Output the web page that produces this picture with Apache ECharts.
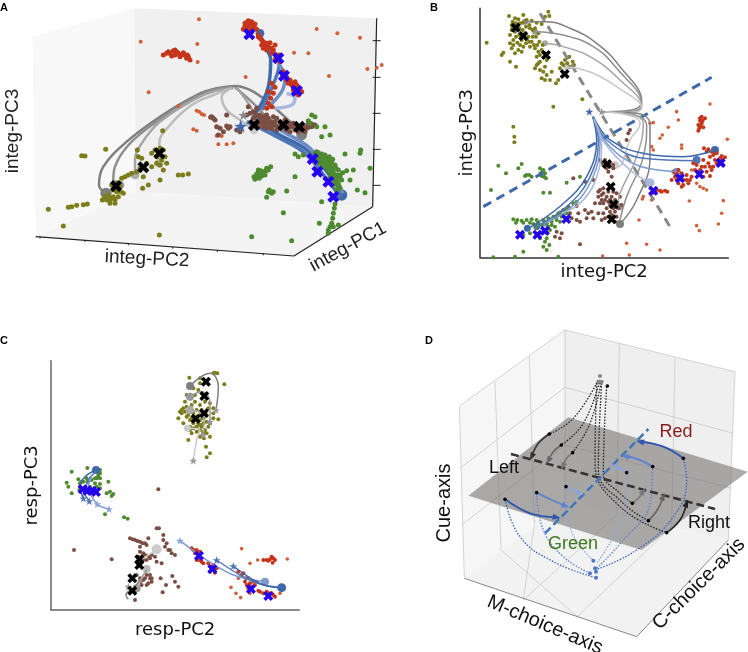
<!DOCTYPE html>
<html><head><meta charset="utf-8">
<script src="https://cdn.jsdelivr.net/npm/echarts@6/dist/echarts.min.js"></script>
<style>html,body{margin:0;background:#fff}#c{width:748px;height:652px}</style></head>
<body><div id="c"></div>
<script>
// ---------- Panel A ----------
const aWalls=[[[97,110],[403,25],[408,575],[107,710]],[[403,25],[1130,55],[1118,620],[408,575]],[[107,710],[408,575],[1118,620],[882,768]]];
const aAxes=[[[107,710],[882,768]],[[882,768],[1118,620]],[[1118,620],[1130,55]]];
const aTicks=[[[1118,122],[1142,122]],[[1118,232],[1142,232]],[[1118,340],[1142,340]],[[1118,448],[1142,448]],[[1118,556],[1142,556]],[[120,710],[120,716]],[[255,720],[255,726]],[[385,730],[385,736]],[[518,740],[518,746]],[[652,750],[652,756]],[[790,760],[790,766]]];
const aOlive=[[145,628],[205,622],[215,620],[230,616],[250,614],[262,612],[245,467],[255,468],[317,448],[190,678],[478,705],[488,392],[307,600],[315,590],[325,585],[335,595],[345,600],[355,590],[362,575],[340,570],[335,555],[350,548],[365,535],[375,530],[385,525],[395,520],[410,515],[420,505],[415,470],[412,450],[425,475],[440,490],[455,500],[470,490],[480,495],[490,510],[500,490],[495,470],[455,460],[465,450],[480,445],[490,450],[470,470],[485,480],[430,530],[428,565],[445,555],[480,540],[535,525],[548,525],[565,522],[330,610],[345,610],[320,600],[355,565],[370,580],[350,575],[360,560],[340,590],[330,600]];
const aRed=[[735,70],[745,62],[755,65],[765,72],[740,80],[750,78],[760,85],[730,88],[770,88],[745,92],[755,95],[775,105],[780,115],[790,125],[785,135],[800,130],[810,128],[825,135],[815,145],[800,150],[830,165],[825,180],[840,185],[815,160],[835,175],[850,215],[870,240],[885,245],[875,255],[890,255],[900,265],[895,285],[880,270],[860,240],[865,250],[905,275],[815,250],[825,262],[805,275],[820,280],[812,295],[805,310],[800,325],[815,320],[490,165],[500,160],[510,160],[520,152],[525,165],[535,160],[545,165],[555,165],[560,175],[570,180],[525,150],[550,158],[738,68],[748,70],[758,72],[742,88],[752,85],[762,78],[735,78],[748,98],[775,110],[785,120],[795,135],[790,145],[805,140],[820,150],[828,172],[838,165],[848,225],[860,232],[872,248],[882,262],[892,270],[898,278],[885,280],[505,155],[515,168],[530,155],[540,170],[562,165],[565,170]];
const aOrange=[[597,58],[950,87],[1012,100],[1080,113],[422,125],[592,132],[593,186],[925,160],[882,158],[1102,207],[1130,203],[1145,195],[987,228],[737,231],[446,277],[535,318],[655,433],[680,433],[700,430],[650,407],[665,408],[580,388],[590,392],[590,332],[598,335],[605,342],[612,345]];
const aBrown=[[635,350],[640,355],[645,360],[632,352],[680,378],[690,380],[685,385],[650,380],[660,385],[655,405],[670,395],[680,345],[720,395],[710,390],[745,320],[770,325],[740,345],[770,345],[780,355],[760,355],[775,365],[785,370],[795,360],[805,355],[815,365],[825,375],[790,380],[800,385],[815,385],[830,390],[840,365],[855,360],[865,370],[875,380],[885,390],[895,395],[905,385],[920,385],[935,380],[945,375],[860,390],[870,395],[845,385],[810,375],[880,370],[925,370],[915,395],[765,370],[775,378],[785,360],[795,372],[805,368],[815,375],[825,365],[835,380],[845,375],[855,380],[865,382],[875,372],[885,378],[895,385],[905,378],[915,380],[925,382],[935,372],[780,345],[790,350],[800,345],[760,335],[750,340],[830,355],[820,350]];
const aGreen=[[950,455],[958,465],[965,472],[972,480],[980,488],[988,495],[975,470],[985,482],[995,505],[1000,515],[1005,530],[1012,545],[1018,560],[960,490],[970,500],[985,510],[995,525],[1005,545],[990,490],[1000,500],[1010,525],[935,345],[945,350],[925,362],[930,370],[950,380],[975,380],[990,405],[965,410],[885,462],[895,470],[910,465],[1035,462],[1082,450],[1080,460],[1110,505],[1040,512],[1060,510],[1028,518],[1020,530],[1050,540],[1072,570],[1095,578],[965,605],[850,638],[755,710],[875,722],[958,670],[770,530],[780,520],[790,515],[800,505],[812,500],[775,510],[785,528],[765,538],[795,525],[805,575],[815,580],[808,570],[820,575],[885,530],[860,573],[800,592],[1005,612],[1003,625],[1000,640],[998,655],[995,670],[990,680],[985,690],[1000,680],[1015,675],[985,700],[945,460],[955,475],[965,485],[975,495],[985,505],[990,515],[1000,525],[1008,538],[1015,552],[1020,565],[955,458],[965,462],[975,465],[985,475],[995,485],[1005,495],[1015,510],[1020,525],[1025,540],[950,470],[960,480],[970,490],[980,500],[990,530],[1000,555],[1010,570],[968,475],[978,482],[988,470],[998,478],[1008,505],[1015,530],[775,518],[782,512],[790,522],[798,512],[770,522],[762,530],[805,510],[778,535]];
const aGrayLines=[
 {c:'#7f7f7f',p:[[715,258],[650,265],[590,285],[480,350],[380,425],[310,500],[297,555],[318,580]]},
 {c:'#8f8f8f',p:[[700,262],[640,270],[585,292],[480,358],[390,430],[345,500],[340,540],[358,556]]},
 {c:'#a5a5a5',p:[[700,265],[640,275],[580,300],[480,365],[425,430],[405,480],[405,525]]},
 {c:'#bcbcbc',p:[[695,265],[640,285],[575,315],[510,375],[478,430],[478,485]]},
 {c:'#7f7f7f',p:[[715,258],[760,275],[820,320],[870,365],[905,405]]},
 {c:'#8f8f8f',p:[[705,262],[760,310],[810,360],[850,385]]},
 {c:'#a5a5a5',p:[[710,262],[745,310],[770,350],[800,385]]},
 {c:'#bcbcbc',p:[[685,270],[665,290],[680,330],[720,360],[762,390]]}];
const aBlueLines=[
 {c:'#3f68ab',p:[[760,350],[830,400],[920,450],[1000,540],[1025,585]]},
 {c:'#4f76b5',p:[[740,365],[830,410],[915,460],[990,550],[1020,590]]},
 {c:'#6d8dc4',p:[[770,345],[850,395],[930,445],[1005,535],[1028,580]]},
 {c:'#3f68ab',p:[[760,350],[805,260],[812,180],[790,130],[780,100]]},
 {c:'#4f76b5',p:[[785,330],[825,240],[838,190],[820,155],[805,150]]},
 {c:'#6d8dc4',p:[[800,325],[845,275],[855,235],[835,190]]},
 {c:'#a7b8dc',p:[[825,325],[875,315],[885,295],[860,280]]}];
const aBlueDots=[[[780,100],'#3f68ab',26],[[803,150],'#6d8dc4',18],[[1025,585],'#3f68ab',34]];
const aGrayDots=[[[318,580],'#7f7f7f',34],[[360,555],'#999',26],[[405,525],'#aaa',26],[[478,490],'#bbb',26],[[905,405],'#7f7f7f',32],[[762,390],'#ccc',26]];
const aBlueX=[[748,103],[835,175],[852,227],[890,272],[938,477],[952,515],[985,545],[1000,590]];
const aBlackX=[[348,558],[430,502],[478,460],[762,375],[850,375],[898,380]];
const aStars=[[722,378]];
const aGrayStars=[[730,345]];

// ---------- Panel B ----------
const bOlive=[[170,128],[237,48],[280,45],[255,55],[355,35],[345,50],[358,48],[265,58],[290,60],[305,62],[320,68],[335,72],[245,75],[255,95],[240,105],[250,120],[262,128],[275,120],[285,100],[295,110],[305,125],[300,140],[280,140],[265,150],[250,135],[245,90],[270,70],[315,85],[325,100],[315,145],[325,155],[335,150],[320,170],[330,185],[315,205],[330,210],[345,200],[335,235],[345,240],[360,240],[365,215],[350,180],[395,190],[405,180],[418,170],[428,185],[432,195],[390,205],[385,240],[378,250],[215,165],[220,158],[240,185],[258,200],[250,380],[253,410],[253,427],[370,320],[457,298],[248,65],[258,70],[268,85],[278,90],[288,80],[298,75],[308,90],[318,110],[328,125],[338,135],[308,110],[298,125],[288,130],[270,135],[258,110],[248,82],[268,105],[278,68],[300,85],[290,118],[312,135],[322,135],[325,190],[340,215],[350,225],[320,195],[330,165],[345,160],[400,195],[412,190],[420,200],[275,155],[255,160],[240,130],[245,145]];
const bRed=[[815,350],[810,362],[805,375],[815,370],[820,382],[805,392],[825,355],[822,445],[835,448],[845,455],[860,460],[875,468],[885,472],[865,480],[880,495],[820,480],[835,490],[850,500],[845,510],[830,515],[815,500],[800,495],[790,490],[820,530],[840,528],[730,515],[745,510],[735,530],[725,540],[745,550],[760,555],[775,550],[785,530],[770,525],[755,520],[662,565],[680,570],[695,575],[712,575],[670,578],[810,355],[818,362],[808,385],[812,378],[830,455],[850,465],[870,475],[855,480],[840,470],[825,500],[810,510],[795,510],[840,500],[860,490],[875,480],[738,520],[750,530],[760,540],[770,540],[740,540],[755,560],[780,540],[690,572],[705,572]];
const bOrange=[[840,312],[892,418],[740,335],[745,360],[670,368],[660,370],[715,382],[697,405],[690,415],[665,440],[670,450],[755,435],[755,445],[778,603],[880,602],[875,640],[865,672],[800,677],[808,692],[640,590],[637,597],[665,600],[820,565],[830,570],[810,560],[650,733],[690,750],[590,730],[598,765],[518,768],[627,660],[800,550],[785,510]];
const bBrown=[[515,487],[525,480],[540,490],[550,505],[530,505],[520,495],[600,390],[595,400],[590,420],[510,570],[520,580],[530,590],[505,590],[515,600],[535,605],[550,575],[560,580],[570,590],[575,615],[565,625],[555,635],[540,635],[545,645],[560,650],[525,655],[515,660],[490,655],[470,655],[465,630],[485,635],[505,640],[440,660],[450,665],[425,655],[415,620],[440,618],[495,610],[380,695],[395,700],[375,710],[390,715],[450,733],[490,540],[465,545],[430,535],[545,530],[540,615],[530,625],[520,610],[510,610],[505,575],[520,565],[535,575],[545,590],[555,600],[525,600],[515,585],[540,600],[560,610],[550,625],[535,650],[548,655],[555,665],[520,640],[530,490],[510,480],[535,515],[550,495],[420,640],[400,630],[445,640],[475,640]];
const bGreen=[[250,658],[262,660],[275,662],[290,660],[305,658],[320,660],[258,668],[280,668],[300,668],[320,680],[335,675],[350,670],[365,665],[380,650],[395,640],[410,640],[430,610],[440,605],[340,695],[350,700],[330,715],[345,725],[360,690],[375,680],[390,665],[285,528],[298,525],[330,505],[338,512],[345,520],[335,528],[348,535],[205,497],[228,520],[183,570],[275,492],[265,505],[340,578],[360,578],[410,548],[450,530],[340,740],[350,750],[280,755],[190,772],[255,770],[385,770],[280,705],[300,700],[310,672],[325,668],[340,660],[355,655],[370,650],[385,640],[355,680],[345,690],[335,700],[365,675],[380,660],[395,650],[405,630],[415,625],[340,510],[332,520],[342,530],[290,525],[305,530],[350,715],[358,735]];
const bGrayLines=[
 {c:'#7f7f7f',p:[[515,335],[590,332],[635,305],[570,200],[500,130],[420,85],[345,65],[285,65]]},
 {c:'#8f8f8f',p:[[520,335],[600,335],[635,315],[560,205],[490,140],[400,105],[315,95]]},
 {c:'#a5a5a5',p:[[520,335],[600,335],[635,320],[570,240],[480,170],[400,140],[345,130]]},
 {c:'#c8c8c8',p:[[520,335],[600,338],[635,325],[560,260],[490,220],[440,205],[410,200]]},
 {c:'#7f7f7f',p:[[515,335],[620,340],[660,375],[660,470],[620,600],[570,672]]},
 {c:'#8f8f8f',p:[[520,335],[615,345],[650,375],[640,470],[590,590],[570,660]]},
 {c:'#a5a5a5',p:[[525,335],[610,345],[640,370],[620,470],[570,580],[565,610]]},
 {c:'#c8c8c8',p:[[525,335],[610,350],[630,370],[600,420],[565,500],[555,495]]}];
const bBlueLines=[
 {c:'#3f68ab',p:[[490,350],[540,420],[650,462],[760,470],[855,450]]},
 {c:'#4f76b5',p:[[490,350],[530,420],[640,475],[800,482]]},
 {c:'#7d9ace',p:[[490,355],[530,430],[620,495],[740,515]]},
 {c:'#a7b8dc',p:[[490,355],[525,430],[600,510],[660,548]]},
 {c:'#3f68ab',p:[[488,350],[500,420],[470,530],[395,615],[295,685]]},
 {c:'#4f76b5',p:[[490,352],[505,425],[478,535],[410,620],[320,680]]},
 {c:'#7d9ace',p:[[490,355],[510,430],[485,540],[425,620],[345,670]]},
 {c:'#a7b8dc',p:[[492,358],[515,435],[495,545],[450,610],[395,640]]}];
const bGrayDash=[[330,40],[720,680]];
const bBlueDash=[[160,620],[845,232]];
const bBlueDots=[[[855,450],'#3f68ab',8],[[800,480],'#4f76b5',8],[[740,515],'#7d9ace',8],[[660,548],'#a7b8dc',9],[[292,685],'#3f68ab',7],[[320,680],'#4f76b5',7],[[345,670],'#7d9ace',7],[[395,640],'#a7b8dc',7]];
const bGrayDots=[[[570,672],'#7f7f7f',8],[[570,620],'#999',7],[[555,495],'#ccc',8],[[285,65],'#888',6],[[315,95],'#999',6],[[345,130],'#aaa',6],[[410,200],'#ccc',7]];
const bBlueX=[[270,704],[322,704],[345,692],[409,657],[670,572],[750,535],[808,523],[872,489]];
const bBlackX=[[257,83],[280,108],[348,165],[404,222],[531,492],[542,560],[551,613],[545,658]];
const bStars=[[478,335]];
const bGrayStars=[[515,335]];

// ---------- Panel C ----------
const cOlive=[[568,143],[600,145],[640,130],[652,130],[645,128],[673,163],[580,175],[595,180],[560,195],[570,205],[555,215],[560,230],[550,235],[540,245],[545,250],[535,265],[570,240],[580,250],[590,260],[600,270],[610,280],[620,255],[640,265],[655,268],[640,235],[630,220],[600,225],[570,290],[580,295],[590,290],[600,300],[610,305],[620,310],[630,320],[565,330],[575,310],[612,325],[618,350],[630,370],[620,382],[600,285],[590,305],[625,290],[550,280],[585,215],[615,215],[545,240],[555,245],[565,255],[575,265],[585,270],[595,280],[605,290],[615,300],[580,280],[570,270],[600,255],[610,265],[620,275],[630,280],[590,240],[605,240],[575,225],[585,195],[600,160],[610,310],[600,320],[590,290],[570,300],[560,260],[640,250],[625,235]];
const cRed=[[575,655],[590,660],[600,665],[585,670],[590,690],[605,695],[625,700],[640,705],[650,715],[630,725],[645,728],[715,725],[730,730],[745,745],[735,755],[750,760],[765,765],[745,775],[780,785],[800,785],[815,790],[825,800],[790,690],[805,692],[815,680],[825,690],[818,698],[810,688],[580,660],[595,668],[598,690],[610,700],[632,710],[645,715],[725,735],[738,745],[755,770],[760,755],[740,765],[790,790],[805,790],[820,795],[800,690],[820,685],[775,782]];
const cOrange=[[725,656],[750,700],[773,690],[862,687],[693,772],[708,790],[722,803],[840,790],[715,745],[770,755],[750,790]];
const cBrown=[[390,625],[405,630],[420,635],[435,640],[445,625],[470,595],[477,595],[490,615],[490,630],[500,640],[515,670],[525,675],[420,665],[435,675],[450,685],[465,680],[415,680],[430,690],[470,695],[485,700],[440,735],[450,745],[455,755],[430,750],[445,760],[420,745],[425,765],[482,745],[517,738],[498,765],[488,787],[525,755],[535,770],[405,810],[475,478],[222,660],[335,688],[398,628],[412,633],[428,640],[440,645],[430,670],[445,678],[440,690],[455,675],[410,735],[420,755],[435,745],[450,735],[440,765],[455,745],[505,660],[495,650],[510,660],[420,650]];
const cGreen=[[262,414],[215,425],[235,448],[245,455],[200,458],[205,470],[215,490],[300,420],[295,435],[290,445],[300,430],[325,455],[330,485],[320,490],[340,492],[335,498],[315,553],[372,562],[383,566],[240,470],[275,450],[260,445],[285,460],[300,462],[290,425],[295,440],[285,445],[300,445],[250,455],[240,460],[262,455],[270,470],[238,480],[300,475],[290,470]];
const cGrayLines=[
 {c:'#7f7f7f',p:[[648,240],[655,170],[630,130],[570,168]]},
 {c:'#999999',p:[[630,275],[630,220],[605,185],[570,200]]},
 {c:'#aaaaaa',p:[[610,315],[612,270],[595,245],[570,240]]},
 {c:'#cccccc',p:[[580,392],[590,330],[600,300],[565,295]]},
 {c:'#7f7f7f',p:[[385,808],[378,795],[405,770],[440,720]]},
 {c:'#aaaaaa',p:[[410,775],[425,745],[440,717]]},
 {c:'#cccccc',p:[[420,690],[445,675],[470,658]]}];
const cBlueLines=[
 {c:'#7d9ace',p:[[540,632],[620,690],[700,735],[795,755]]},
 {c:'#5478b8',p:[[650,690],[720,735],[780,762],[845,773]]},
 {c:'#3f68ab',p:[[700,708],[760,750],[800,768],[845,773]]},
 {c:'#3f68ab',p:[[288,420],[255,440],[240,470],[250,505]]},
 {c:'#5478b8',p:[[288,425],[265,450],[255,490],[268,513]]},
 {c:'#7d9ace',p:[[275,440],[265,470],[292,522],[327,537]]}];
const cBlueDots=[[[845,773],'#3f68ab',9],[[795,755],'#7d9ace',8],[[288,420],'#3f68ab',8]];
const cGrayDots=[[[570,168],'#7f7f7f',8],[[570,200],'#999',8],[[570,240],'#aaa',8],[[562,295],'#ccc',7],[[470,658],'#ccc',10],[[440,717],'#bbb',8],[[410,775],'#999',8]];
const cBlueX=[[597,677],[637,717],[753,777],[805,798],[248,478],[262,482],[275,482],[288,486]];
const cBlackX=[[618,155],[613,198],[612,250],[587,266],[418,688],[418,705],[397,745],[397,782]];
const cStars=[[250,505],[268,513],[700,708],[650,690]];
const cLightStars=[[292,522],[327,537],[540,632]];
const cGrayStars=[[648,240],[630,275],[610,315],[580,392],[385,770]];

// ---------- Panel D ----------
const dWalls=[[[118,228],[435,0],[435,520],[133,745]],[[435,0],[945,125],[925,630],[435,520]],[[133,745],[435,520],[925,630],[650,920]]];
const dGrid=[[[225,155],[243,660]],[[328,80],[343,575]],[[598,40],[590,555]],[[765,85],[755,590]],[[120,415],[435,172]],[[125,585],[435,345]],[[435,172],[940,310]],[[435,345],[935,475]],[[243,660],[472,860]],[[345,570],[310,810]],[[590,555],[310,810]],[[755,590],[472,860]],[[118,228],[133,745]],[[435,0],[945,125]],[[118,228],[435,0]],[[945,125],[925,630]],[[435,0],[435,520]]];
const dEdges=[[[133,745],[650,920]],[[650,920],[925,630]]];
const dPlane=[[145,497],[445,262],[983,425],[665,660]];
const dBlackDash=[[273,372],[885,537]];
const dBlueDash=[[375,610],[685,297]];
const dBlackDotted=[
 [[535,150],[460,265],[388,312]],[[540,150],[490,280],[424,345]],[[545,150],[510,280],[458,368]],
 [[530,160],[525,400],[600,530],[740,608]],[[545,160],[535,420],[610,520],[685,572]],[[560,170],[550,430],[600,490],[637,520]]];
const dBlackArrows=[
 {c:'#333333',p:[[388,312],[355,340],[335,380]]},{c:'#666666',p:[[424,345],[400,365],[385,392]]},{c:'#777777',p:[[458,368],[440,385],[428,410]]},
 {c:'#222222',p:[[740,608],[780,570],[800,520]]},{c:'#666666',p:[[685,572],[712,540],[730,500]]},{c:'#777777',p:[[637,520],[655,505],[670,483]]}];
const dBlueArrows=[
 {c:'#2f55b0',p:[[790,385],[730,350],[660,335]]},{c:'#5c82d0',p:[[698,410],[655,388],[615,378]]},{c:'#8aa4dc',p:[[620,428],[600,415],[585,408]]},
 {c:'#2f55b0',p:[[255,508],[330,550],[410,562]]},{c:'#5c82d0',p:[[350,488],[395,510],[437,528]]},{c:'#8aa4dc',p:[[438,470],[460,480],[480,490]]}];
const dBlueDotted=[
 {c:'#3a62c0',p:[[525,720],[650,660],[760,560],[800,450],[790,385]]},
 {c:'#3a62c0',p:[[255,508],[300,620],[400,695],[528,743]]},
 {c:'#5c82d0',p:[[350,488],[370,600],[430,680],[510,730]]},
 {c:'#8aa4dc',p:[[438,470],[450,590],[520,692]]},
 {c:'#5c82d0',p:[[698,410],[690,520],[610,630],[530,715]]},
 {c:'#8aa4dc',p:[[620,428],[615,540],[575,630],[530,700]]}];
const dBlackDots=[[388,312],[424,345],[458,368],[740,608],[685,572],[637,520],[255,508],[350,488],[438,470],[790,385],[698,410],[620,428],[562,168]];
const dGrayTop=[[540,138],[545,155],[535,155]];
const dBlueEnd=[[520,692],[525,715],[528,725],[510,730],[528,743]];

// ---------- Text ----------
const panelLetters=[['A',0,8],['B',430,8],['C',0,341],['D',425,341]];
const freeLabels=[
 ['integ-PC2',147,259,-0.05,19,'#222'],['integ-PC1',348,247,0.5,19,'#222'],['integ-PC3',13,131,1.5708,19,'#222'],
 ['Red',676,432,0,18,'#8b1a1a'],['Left',504,468,0,18,'#111'],['Right',709,523,0,18,'#111'],['Green',573,544,0,18,'#3a7a1a'],
 ['Cue-axis',444,503,1.5708,20,'#111'],['M-choice-axis',545,625,-0.4,20,'#111'],['C-choice-axis',699,584,0.78,20,'#111']];

const COL={olive:'#7c7c1a',red:'#c5351a',orange:'#cf6038',brown:'#7a4e42',green:'#4e8a30',blue:'#3f68ab',bx:'#2400ee'};
const XP='path://M25,0 L50,25 L75,0 L100,25 L75,50 L100,75 L75,100 L50,75 L25,100 L0,75 L25,50 L0,25 Z';
const SP='path://M50,0 L62,36 L98,36 L69,57 L79,91 L50,70 L21,91 L31,57 L2,36 L38,36 Z';

let zc=1; const series=[];
function poly(g,pts,fill){series.push({type:'custom',xAxisIndex:g,yAxisIndex:g,silent:true,clip:false,z:zc++,data:[[pts[0][0],pts[0][1]]],
  renderItem:(p,api)=>({type:'polygon',shape:{points:pts.map(q=>api.coord(q))},style:{fill:fill}})});}
function line(g,pts,c,w,o={}){series.push({type:'line',xAxisIndex:g,yAxisIndex:g,data:pts,showSymbol:false,silent:true,clip:false,z:zc++,smooth:o.smooth??0,
  lineStyle:{color:c,width:w,type:o.type||'solid',opacity:o.op??1,cap:o.cap||'butt'}});}
function pts(g,data,c,size,sym='circle',op=1,rot=0){series.push({type:'scatter',xAxisIndex:g,yAxisIndex:g,data,symbol:sym,symbolSize:size,symbolRotate:rot,silent:true,clip:false,z:zc++,itemStyle:{color:c,opacity:op}});}
function dots(g,list,scale=1){list.forEach(d=>pts(g,[d[0]],d[1],d[2]*scale));}
function arrow(g,l,w){line(g,l.p,l.c,w,{smooth:.4});const n=l.p.length,a=l.p[n-2],b=l.p[n-1];
  pts(g,[b],l.c,[6,8],'triangle',1,Math.atan2(-(b[0]-a[0]),-(b[1]-a[1]))*180/Math.PI);}

// A
aWalls.forEach((w,i)=>poly(0,w,['#f8f8f8','#f0f0f0','#f4f4f4'][i]));
aAxes.forEach(a=>line(0,a,'#222',1.2));aTicks.forEach(a=>line(0,a,'#222',1));
dots(0,aGrayDots,1/3);dots(0,aBlueDots,1/3);
aGrayLines.forEach(l=>line(0,l.p,l.c,2.5,{smooth:.4}));
aBlueLines.forEach(l=>line(0,l.p,l.c,3.5,{smooth:.4}));
pts(0,aOrange,COL.orange,4);pts(0,aOlive,COL.olive,5);pts(0,aRed,COL.red,5);pts(0,aBrown,COL.brown,5);pts(0,aGreen,COL.green,5);
pts(0,aGrayStars,'#888',10,SP);pts(0,aStars,COL.blue,13,SP);
pts(0,aBlueX,COL.bx,12,XP);pts(0,aBlackX,'#000',12,XP);
// B
dots(1,bGrayDots);dots(1,bBlueDots);
pts(1,bOrange,COL.orange,3.6);pts(1,bOlive,COL.olive,4);pts(1,bRed,COL.red,4);pts(1,bBrown,COL.brown,4);pts(1,bGreen,COL.green,4);
line(1,bGrayDash,'#888',3,{type:[9,6]});line(1,bBlueDash,'#3f68ab',3,{type:[9,6]});
bGrayLines.forEach(l=>line(1,l.p,l.c,1.5,{smooth:.45}));
bBlueLines.forEach(l=>line(1,l.p,l.c,1.5,{smooth:.4}));
pts(1,bGrayStars,'#999',8,SP);pts(1,bStars,COL.blue,8,SP);
pts(1,bBlueX,COL.bx,10,XP);pts(1,bBlackX,'#000',10,XP);
// C
pts(2,cOrange,COL.orange,3.6);pts(2,cOlive,COL.olive,4);pts(2,cRed,COL.red,4);pts(2,cBrown,COL.brown,4);pts(2,cGreen,COL.green,4);
dots(2,cGrayDots);dots(2,cBlueDots);
cGrayLines.forEach(l=>line(2,l.p,l.c,1.5,{smooth:.45}));
cBlueLines.forEach(l=>line(2,l.p,l.c,1.5,{smooth:.35}));
pts(2,cGrayStars,'#999',8,SP);pts(2,cStars,'#4f76b5',8,SP);pts(2,cLightStars,'#8aa4dc',8,SP);
pts(2,cBlueX,COL.bx,10,XP);pts(2,cBlackX,'#000',10,XP);
// D
dWalls.forEach((w,i)=>poly(3,w,['#f6f6f6','#efefef','#f2f2f2'][i]));
dGrid.forEach(a=>line(3,a,'#c9c9c9',.8));
dEdges.forEach(a=>line(3,a,'#888',1));
poly(3,dPlane,'rgba(120,115,115,.6)');
dBlackDotted.forEach(p=>line(3,p,'#222',1.3,{type:[1.5,1.5],smooth:.45}));
dBlueDotted.forEach(l=>line(3,l.p,l.c,1.3,{type:[1.5,1.5],smooth:.45}));
line(3,dBlackDash,'#333',2.5,{type:[8,4]});line(3,dBlueDash,'#3f78b8',2.5,{type:[8,4]});
dBlackArrows.forEach(l=>arrow(3,l,1.6));
dBlueArrows.forEach(l=>arrow(3,l,1.8));
pts(3,dBlackDots,'#000',3.6);pts(3,dGrayTop,'#888',4);pts(3,dBlueEnd,'#4f76c8',4);

function hid(g,min,max,inv){return {gridIndex:g,type:'value',min,max,inverse:!!inv,show:false};}
function vis(g,min,max,inv,name,gap,col,pos,fs){return {gridIndex:g,type:'value',min,max,inverse:!!inv,position:pos,name,nameLocation:'middle',nameGap:gap,
 nameTextStyle:{fontFamily:'DejaVu Sans',fontSize:fs,color:'#111'},axisLine:{show:true,onZero:false,lineStyle:{color:col,width:1.5}},axisTick:{show:false},axisLabel:{show:false},splitLine:{show:false}};}

const TOP=100000;
const option={animation:false,backgroundColor:'#fff',
 grid:[{left:0,top:0,width:390,height:300},{left:480,top:8.3,width:248.3,height:249},{left:51,top:360.7,width:248.3,height:249.3},{left:420,top:330,width:328,height:322}],
 xAxis:[hid(0,0,1170),vis(1,150,895,false,'integ-PC2',6,'#333','bottom',18),vis(2,153,898,false,'resp-PC2',11,'#666','bottom',18),hid(3,0,984)],
 yAxis:[hid(0,0,900,true),vis(1,25,772,true,'integ-PC3',4,'#333','left',18),vis(2,92,840,true,'resp-PC3',10,'#666','left',18),hid(3,0,966,true)],
 series,
 graphic:[...panelLetters.map(l=>({type:'text',z:TOP,x:l[1],y:l[2],silent:true,style:{text:l[0],fontFamily:'Liberation Sans',fontWeight:'bold',fontSize:11,fill:'#000',align:'left',verticalAlign:'middle'}})),
  ...freeLabels.map(l=>({type:'text',z:TOP,x:l[1],y:l[2],rotation:l[3],silent:true,style:{text:l[0],fontFamily:'Liberation Sans',fontSize:l[4],fill:l[5],align:'center',verticalAlign:'middle'}}))]};
echarts.init(document.getElementById('c'),null,{renderer:'canvas'}).setOption(option);
</script></body></html>
